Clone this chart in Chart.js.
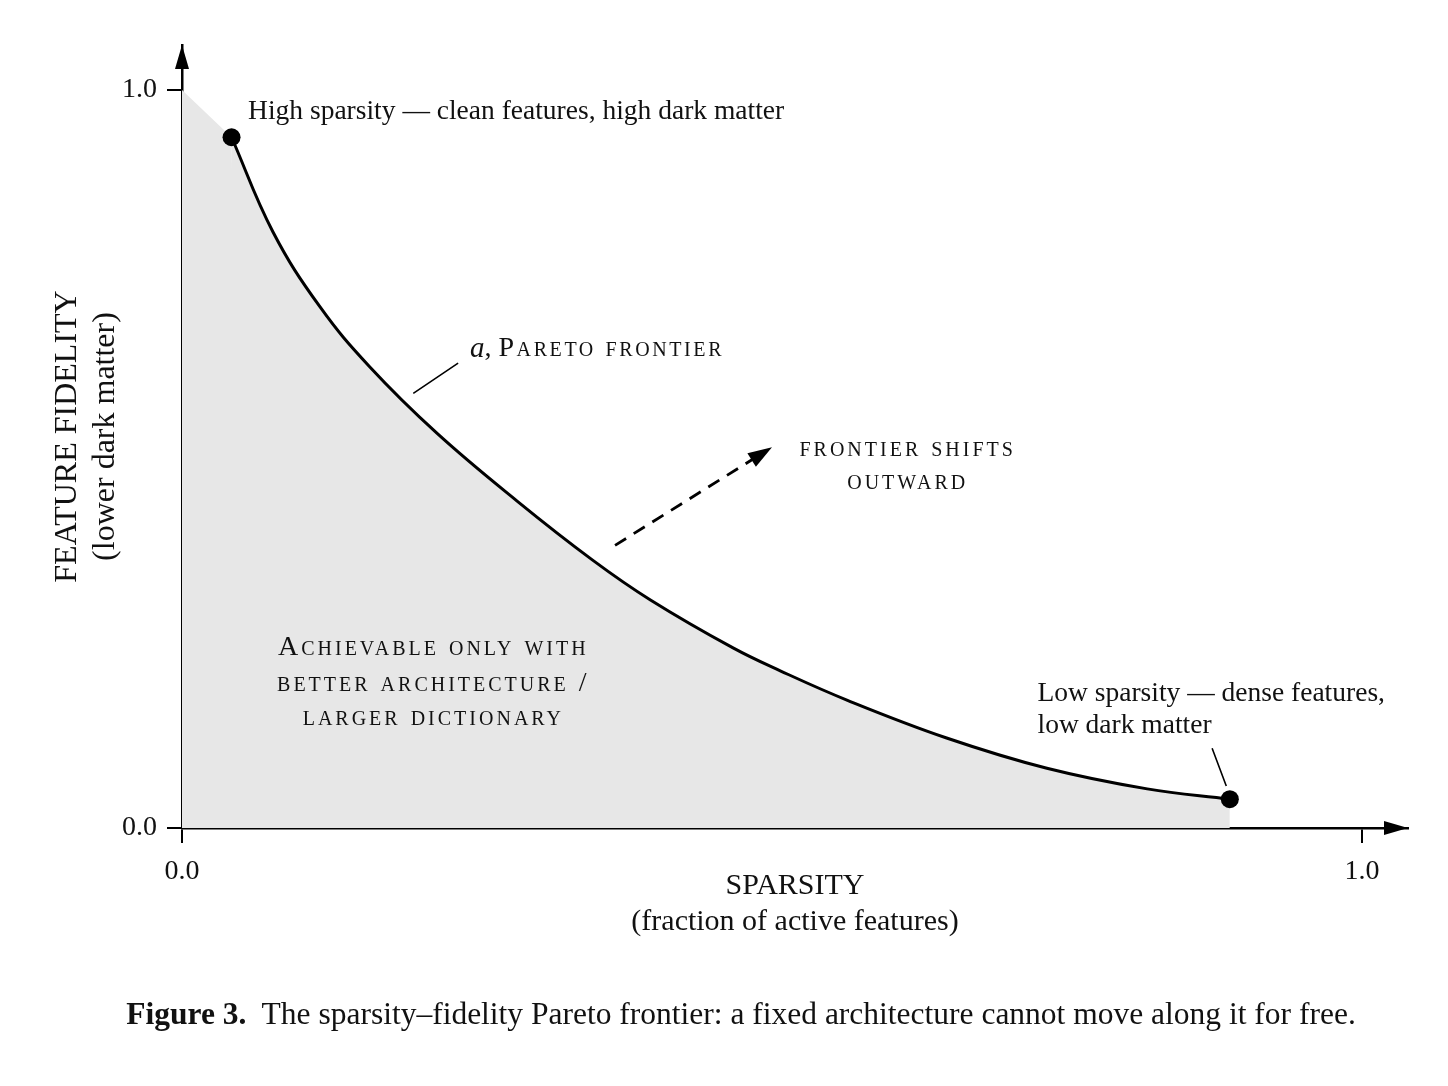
<!DOCTYPE html>
<html>
<head>
<meta charset="utf-8">
<script src="https://cdn.jsdelivr.net/npm/chart.js@4.4.1/dist/chart.umd.min.js"></script>
<style>
  html, body { margin: 0; padding: 0; background: #fff; }
  #wrap { position: relative; width: 1448px; height: 1086px; }
  #caption {
    position: absolute; left: 34px; right: 0; top: 996px;
    text-align: center; font-family: 'Liberation Serif', serif;
    font-size: 31.5px; color: #111; white-space: nowrap;
  }
</style>
</head>
<body>
<div id="wrap">
  <canvas id="chart" width="1448" height="1086"></canvas>
  <div id="caption"><b>Figure 3.</b>&nbsp; The sparsity–fidelity Pareto frontier: a fixed architecture cannot move along it for free.</div>
</div>
<script>
// frontier (sparsity, fidelity)
const frontierX = [0.042, 0.077, 0.117, 0.159, 0.216, 0.284, 0.348, 0.397, 0.467, 0.507, 0.564, 0.648, 0.733, 0.818, 0.888];
const frontierY = [0.936, 0.808, 0.706, 0.625, 0.535, 0.443, 0.363, 0.309, 0.244, 0.213, 0.173, 0.122, 0.081, 0.053, 0.039];

// shaded wedge between the top of the fidelity axis and the first point
// (last point just tucks under the frontier fill so no seam shows)
const cornerX = [0, 0.042, 0.05];
const cornerY = [1.0, 0.936, 0];

const tickValues = [0, 1];
const tickLabels = ['0.0', '1.0'];

const xTitle = ['SPARSITY', '(fraction of active features)'];
const yTitle = ['FEATURE FIDELITY', '(lower dark matter)'];

const SERIF = "'Liberation Serif', 'Times New Roman', serif";
const INK = '#111';
const SHADE = '#e7e7e7';

const toPts = (xs, ys) => xs.map((x, i) => ({ x: x, y: ys[i] }));
const frontier = toPts(frontierX, frontierY);
const ends = [frontier[0], frontier[frontier.length - 1]];

function arrowHead(ctx, x1, y1, x2, y2, len, half) {
    const a = Math.atan2(y2 - y1, x2 - x1);
    ctx.beginPath();
    ctx.moveTo(x2, y2);
    ctx.lineTo(x2 - len * Math.cos(a) + half * Math.sin(a), y2 - len * Math.sin(a) - half * Math.cos(a));
    ctx.lineTo(x2 - len * Math.cos(a) - half * Math.sin(a), y2 - len * Math.sin(a) + half * Math.cos(a));
    ctx.closePath();
    ctx.fill();
}

const annotations = {
    id: 'annotations',
    afterDraw(chart) {
        const { ctx, scales: { x, y }, chartArea } = chart;
        const px = v => x.getPixelForValue(v);
        const py = v => y.getPixelForValue(v);
        ctx.save();
        ctx.fillStyle = '#000';
        ctx.strokeStyle = '#000';

        // axis arrowheads
        arrowHead(ctx, chartArea.left, chartArea.bottom, chartArea.right, chartArea.bottom, 24, 7);
        arrowHead(ctx, chartArea.left, chartArea.bottom, chartArea.left, chartArea.top, 24, 7);

        // leader lines
        ctx.lineWidth = 1.6;
        ctx.beginPath();
        ctx.moveTo(px(0.196), py(0.589));
        ctx.lineTo(px(0.234), py(0.630));
        ctx.moveTo(px(0.873), py(0.108));
        ctx.lineTo(px(0.885), py(0.057));
        ctx.stroke();

        // dashed shift arrow
        const ax1 = px(0.367), ay1 = py(0.383), ax2 = px(0.500), ay2 = py(0.516);
        ctx.lineWidth = 2.8;
        ctx.setLineDash([13, 9]);
        ctx.beginPath();
        ctx.moveTo(ax1, ay1);
        const a = Math.atan2(ay2 - ay1, ax2 - ax1);
        ctx.lineTo(ax2 - 14 * Math.cos(a), ay2 - 14 * Math.sin(a));
        ctx.stroke();
        ctx.setLineDash([]);
        arrowHead(ctx, ax1, ay1, ax2, ay2, 24, 8);

        // plain labels
        ctx.fillStyle = INK;
        ctx.textBaseline = 'middle';
        ctx.font = '27.5px ' + SERIF;
        ctx.textAlign = 'left';
        ctx.fillText('High sparsity — clean features, high dark matter', px(0.056), py(0.970));
        ctx.fillText('Low sparsity — dense features,', px(0.725), py(0.182));
        ctx.fillText('low dark matter', px(0.725), py(0.138));

        // a, Pareto frontier
        ctx.font = 'italic 29px ' + SERIF;
        const lx = px(0.244), ly = py(0.649);
        ctx.fillText('a', lx, ly);
        let w = ctx.measureText('a').width;
        ctx.font = '28px ' + SERIF;
        ctx.fillText(',', lx + w, ly);
        w += ctx.measureText(', ').width;
        ctx.font = 'small-caps 28px ' + SERIF;
        ctx.letterSpacing = '2.6px';
        ctx.fillText('Pareto frontier', lx + w, ly);

        // small-caps blocks, centred
        ctx.letterSpacing = '3px';
        ctx.textAlign = 'center';
        ctx.fillText('frontier shifts', px(0.615), py(0.514));
        ctx.fillText('outward', px(0.615), py(0.470));
        ctx.fillText('Achievable only with', px(0.213), py(0.244));
        ctx.fillText('better architecture /', px(0.213), py(0.196));
        ctx.fillText('larger dictionary', px(0.213), py(0.150));
        ctx.restore();
    }
};

const tickFont = { family: SERIF, size: 28 };

new Chart(document.getElementById('chart'), {
    type: 'scatter',
    data: {
        datasets: [
            {
                data: ends, order: 0,
                pointRadius: 9, pointBackgroundColor: '#000', pointBorderWidth: 0
            },
            {
                data: frontier, order: 1,
                showLine: true, fill: 'origin', backgroundColor: SHADE,
                borderColor: '#000', borderWidth: 3, pointRadius: 0,
                tension: 0.4
            },
            {
                data: toPts(cornerX, cornerY), order: 2,
                showLine: true, fill: 'origin', backgroundColor: SHADE,
                borderWidth: 0, pointRadius: 0, tension: 0
            }
        ]
    },
    options: {
        responsive: false,
        animation: false,
        layout: { padding: { left: 40, top: 45, right: 40, bottom: 136 } },
        plugins: { legend: { display: false }, tooltip: { enabled: false } },
        scales: {
            x: {
                type: 'linear', min: 0, max: 1.039, z: 1,
                afterBuildTicks: s => { s.ticks = tickValues.map(v => ({ value: v })); },
                afterFit: s => { s.height = 122; },
                ticks: { callback: v => tickLabels[tickValues.indexOf(v)], font: tickFont, color: INK, padding: 12, maxRotation: 0 },
                grid: { drawOnChartArea: false, drawTicks: true, tickLength: 15, color: '#000', lineWidth: 2 },
                border: { display: true, color: '#000', width: 2.5 },
                title: { display: true, text: xTitle, font: { family: SERIF, size: 30 }, color: INK, padding: { top: 0, bottom: 10 } }
            },
            y: {
                type: 'linear', min: 0, max: 1.061, z: 1,
                afterBuildTicks: s => { s.ticks = tickValues.map(v => ({ value: v })); },
                afterFit: s => { s.width = 142; },
                ticks: { callback: v => tickLabels[tickValues.indexOf(v)], font: tickFont, color: INK, padding: 10 },
                grid: { drawOnChartArea: false, drawTicks: true, tickLength: 15, color: '#000', lineWidth: 2 },
                border: { display: true, color: '#000', width: 2.5 },
                title: { display: true, text: yTitle, font: { family: SERIF, size: 32 }, color: INK, padding: { top: 8, bottom: 0 } }
            }
        }
    },
    plugins: [annotations]
});
</script>
</body>
</html>
